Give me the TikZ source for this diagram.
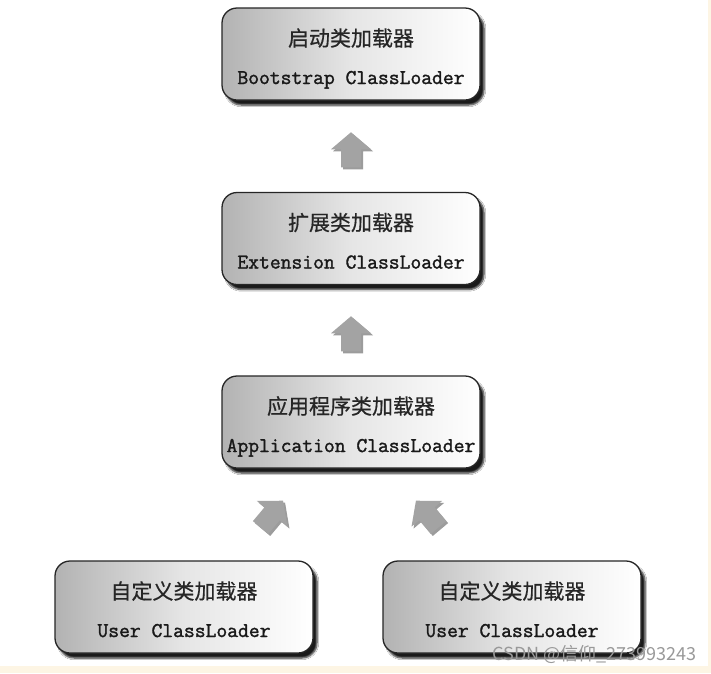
\documentclass[tikz,border=0pt]{standalone}
\usepackage{fontspec}
\newfontfamily\cjk{Noto Sans CJK SC}[FakeBold=0.6]
\newfontfamily\entt{Latin Modern Mono}[FakeBold=1.6]
\newfontfamily\wmfont{Noto Sans CJK SC}
\usetikzlibrary{shadows.blur,calc}
\definecolor{cream}{HTML}{FDF5E4}
\begin{document}
\begin{tikzpicture}[x=1pt,y=-1pt,
 box/.style={draw=black!85, line width=1.3pt, rounded corners=15pt, minimum width=258pt, minimum height=92pt,
   left color=black!30, right color=white, middle color=black!10,
   blur shadow={shadow xshift=4pt, shadow yshift=-5pt, shadow blur steps=6, shadow opacity=90}},
 cn/.style={font=\cjk\fontsize{21}{21}\selectfont, text=black!85, inner sep=0pt},
 en/.style={font=\entt\fontsize{21}{21}\selectfont, text=black!90, inner sep=0pt, anchor=base},
 arrowfill/.style={fill=black!36},
 arrowshadow/.style={fill=black!70, opacity=0.55},
 pics/blockarrow/.style={code={
   \fill[arrowshadow, shift={(2,2)}, rotate=#1] (0,-18) -- (20,-1) -- (10,-1) -- (10,17) -- (-10,17) -- (-10,-1) -- (-20,-1) -- cycle;
   \fill[arrowfill, rotate=#1] (0,-18) -- (20,-1) -- (10,-1) -- (10,17) -- (-10,17) -- (-10,-1) -- (-20,-1) -- cycle;
 }},
 wmark/.style={font=\wmfont\fontsize{18}{18}\selectfont, text=black!40, inner sep=0pt, anchor=east}]

\fill[white] (0,0) rectangle (711,673);
\fill[cream] (708,0) rectangle (711,673);
\fill[cream] (0,666) rectangle (711,673);
\useasboundingbox (0,0) rectangle (711,673);

% boxes
\node[box] (b1) at (351,54) {};
\node[box] (b2) at (351,238.5) {};
\node[box] (b3) at (351,422) {};
\node[box] (b4) at (184,607) {};
\node[box] (b5) at (512,607) {};

% texts
\node[cn] (c1) at ($(b1.center)+(0,-16)$) {启动类加载器};
\node[en] (e1) at ($(b1.center)+(0,30)$) {Bootstrap ClassLoader};
\node[cn] (c2) at ($(b2.center)+(0,-16)$) {扩展类加载器};
\node[en] (e2) at ($(b2.center)+(0,30)$) {Extension ClassLoader};
\node[cn] (c3) at ($(b3.center)+(0,-16)$) {应用程序类加载器};
\node[en] (e3) at ($(b3.center)+(0,30)$) {Application ClassLoader};
\node[cn] (c4) at ($(b4.center)+(0,-16)$) {自定义类加载器};
\node[en] (e4) at ($(b4.center)+(0,30)$) {User ClassLoader};
\node[cn] (c5) at ($(b5.center)+(0,-16)$) {自定义类加载器};
\node[en] (e5) at ($(b5.center)+(0,30)$) {User ClassLoader};

% block arrows
\coordinate (a1) at ($(b1.south)!0.5!(b2.north)+(0,4)$);
\coordinate (a2) at ($(b2.south)!0.5!(b3.north)+(0,4)$);
\coordinate (a3) at ($(b4.north)!0.5!(b3.south)+(4,0)$);
\coordinate (a4) at ($(b5.north)!0.5!(b3.south)+(-4,0)$);
\pic at (a1) {blockarrow=0};
\pic at (a2) {blockarrow=0};
\pic at (a3) {blockarrow=-40};
\pic at (a4) {blockarrow=40};

% watermark
\node[wmark] (wm) at (697,654) {CSDN @信仰\_273993243};
\end{tikzpicture}
\end{document}
